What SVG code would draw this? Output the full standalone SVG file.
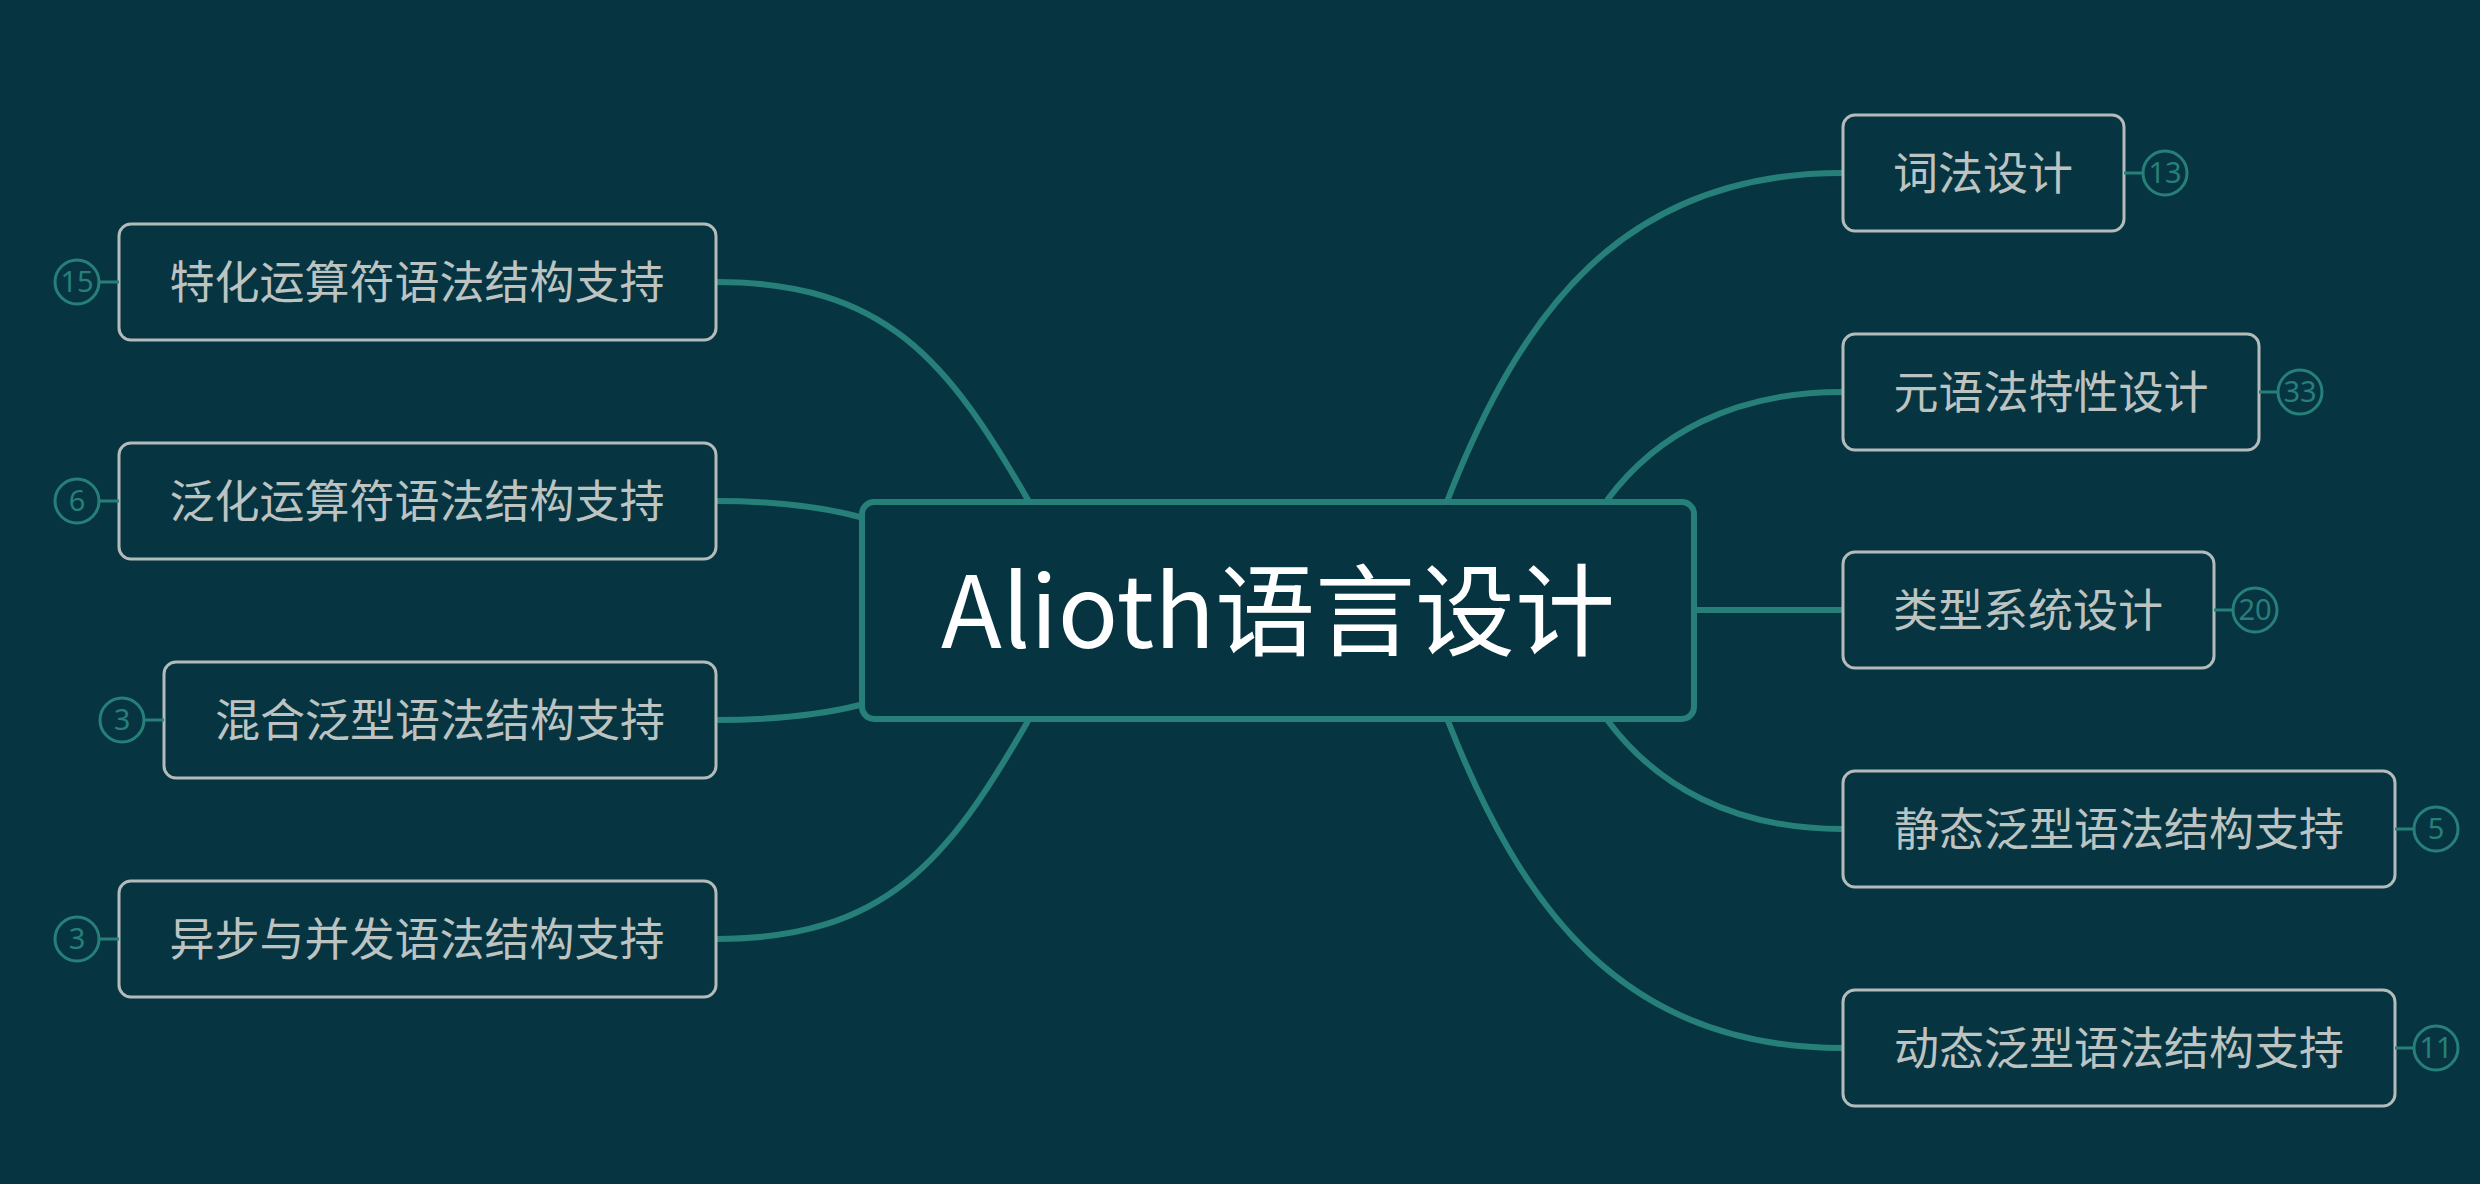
<svg xmlns="http://www.w3.org/2000/svg" width="2480" height="1184" viewBox="0 0 2480 1184">
<style>
.bg{fill:#063541}
.conn{fill:none;stroke:#277f7a;stroke-width:6;stroke-linecap:round}
.root{fill:#063541;stroke:#277f7a;stroke-width:6}
.rootText{font-family:"Noto Sans CJK SC","Noto Sans",sans-serif;font-size:100px;fill:#ffffff;text-anchor:middle}
.box{fill:#063541;stroke:#b3bcba;stroke-width:3}
.label{font-family:"Noto Sans CJK SC","Noto Sans",sans-serif;font-size:45px;fill:#bcc3c1;text-anchor:middle}
.badge{fill:#063541;stroke:#277f7a;stroke-width:3}
.tick{stroke:#277f7a;stroke-width:3}
.num{font-family:"Noto Sans","Noto Sans CJK SC",sans-serif;font-size:29px;fill:#277f7a;text-anchor:middle}
</style>
<rect class="bg" x="0" y="0" width="2480" height="1184"/>
<g id="connectors">
<path class="conn" d="M1448,499 C1521,313 1622,173 1842,173"/>
<path class="conn" d="M1608,499 C1656,435 1732,392 1842,392"/>
<path class="conn" d="M1696,610 L1842,610"/>
<path class="conn" d="M1608,721 C1656,785 1732,829 1842,829"/>
<path class="conn" d="M1448,721 C1521,907 1622,1048 1842,1048"/>
<path class="conn" d="M1028,500 C948,361 886,282 716,282"/>
<path class="conn" d="M860,517 Q800,501 716,501"/>
<path class="conn" d="M860,705 Q800,720 716,720"/>
<path class="conn" d="M1028,721 C948,860 886,939 716,939"/>
</g>
<g id="root">
<rect class="root" x="862" y="502" width="832" height="217" rx="12"/>
<text class="rootText" x="1278" y="648">Alioth语言设计</text>
</g>
<g id="n-cifa">
<rect class="box" x="1843" y="115" width="281" height="116" rx="12"/>
<text class="label" x="1983" y="190">词法设计</text>
<line class="tick" x1="2124" y1="173" x2="2142" y2="173"/>
<circle class="badge" cx="2165" cy="173" r="22"/>
<text class="num" x="2165" y="183">13</text>
</g>
<g id="n-yuanyufa">
<rect class="box" x="1843" y="334" width="416" height="116" rx="12"/>
<text class="label" x="2051" y="409">元语法特性设计</text>
<line class="tick" x1="2259" y1="392" x2="2277" y2="392"/>
<circle class="badge" cx="2300" cy="392" r="22"/>
<text class="num" x="2300" y="402">33</text>
</g>
<g id="n-leixing">
<rect class="box" x="1843" y="552" width="371" height="116" rx="12"/>
<text class="label" x="2028" y="627">类型系统设计</text>
<line class="tick" x1="2214" y1="610" x2="2232" y2="610"/>
<circle class="badge" cx="2255" cy="610" r="22"/>
<text class="num" x="2255" y="620">20</text>
</g>
<g id="n-jingtai">
<rect class="box" x="1843" y="771" width="552" height="116" rx="12"/>
<text class="label" x="2119" y="846">静态泛型语法结构支持</text>
<line class="tick" x1="2395" y1="829" x2="2413" y2="829"/>
<circle class="badge" cx="2436" cy="829" r="22"/>
<text class="num" x="2436" y="839">5</text>
</g>
<g id="n-dongtai">
<rect class="box" x="1843" y="990" width="552" height="116" rx="12"/>
<text class="label" x="2119" y="1065">动态泛型语法结构支持</text>
<line class="tick" x1="2395" y1="1048" x2="2413" y2="1048"/>
<circle class="badge" cx="2436" cy="1048" r="22"/>
<text class="num" x="2436" y="1058">11</text>
</g>
<g id="n-tehua">
<rect class="box" x="119" y="224" width="597" height="116" rx="12"/>
<text class="label" x="417" y="299">特化运算符语法结构支持</text>
<line class="tick" x1="100" y1="282" x2="119" y2="282"/>
<circle class="badge" cx="77" cy="282" r="22"/>
<text class="num" x="77" y="292">15</text>
</g>
<g id="n-fanhua">
<rect class="box" x="119" y="443" width="597" height="116" rx="12"/>
<text class="label" x="417" y="518">泛化运算符语法结构支持</text>
<line class="tick" x1="100" y1="501" x2="119" y2="501"/>
<circle class="badge" cx="77" cy="501" r="22"/>
<text class="num" x="77" y="511">6</text>
</g>
<g id="n-hunhe">
<rect class="box" x="164" y="662" width="552" height="116" rx="12"/>
<text class="label" x="440" y="737">混合泛型语法结构支持</text>
<line class="tick" x1="145" y1="720" x2="164" y2="720"/>
<circle class="badge" cx="122" cy="720" r="22"/>
<text class="num" x="122" y="730">3</text>
</g>
<g id="n-yibu">
<rect class="box" x="119" y="881" width="597" height="116" rx="12"/>
<text class="label" x="417" y="956">异步与并发语法结构支持</text>
<line class="tick" x1="100" y1="939" x2="119" y2="939"/>
<circle class="badge" cx="77" cy="939" r="22"/>
<text class="num" x="77" y="949">3</text>
</g>
</svg>
